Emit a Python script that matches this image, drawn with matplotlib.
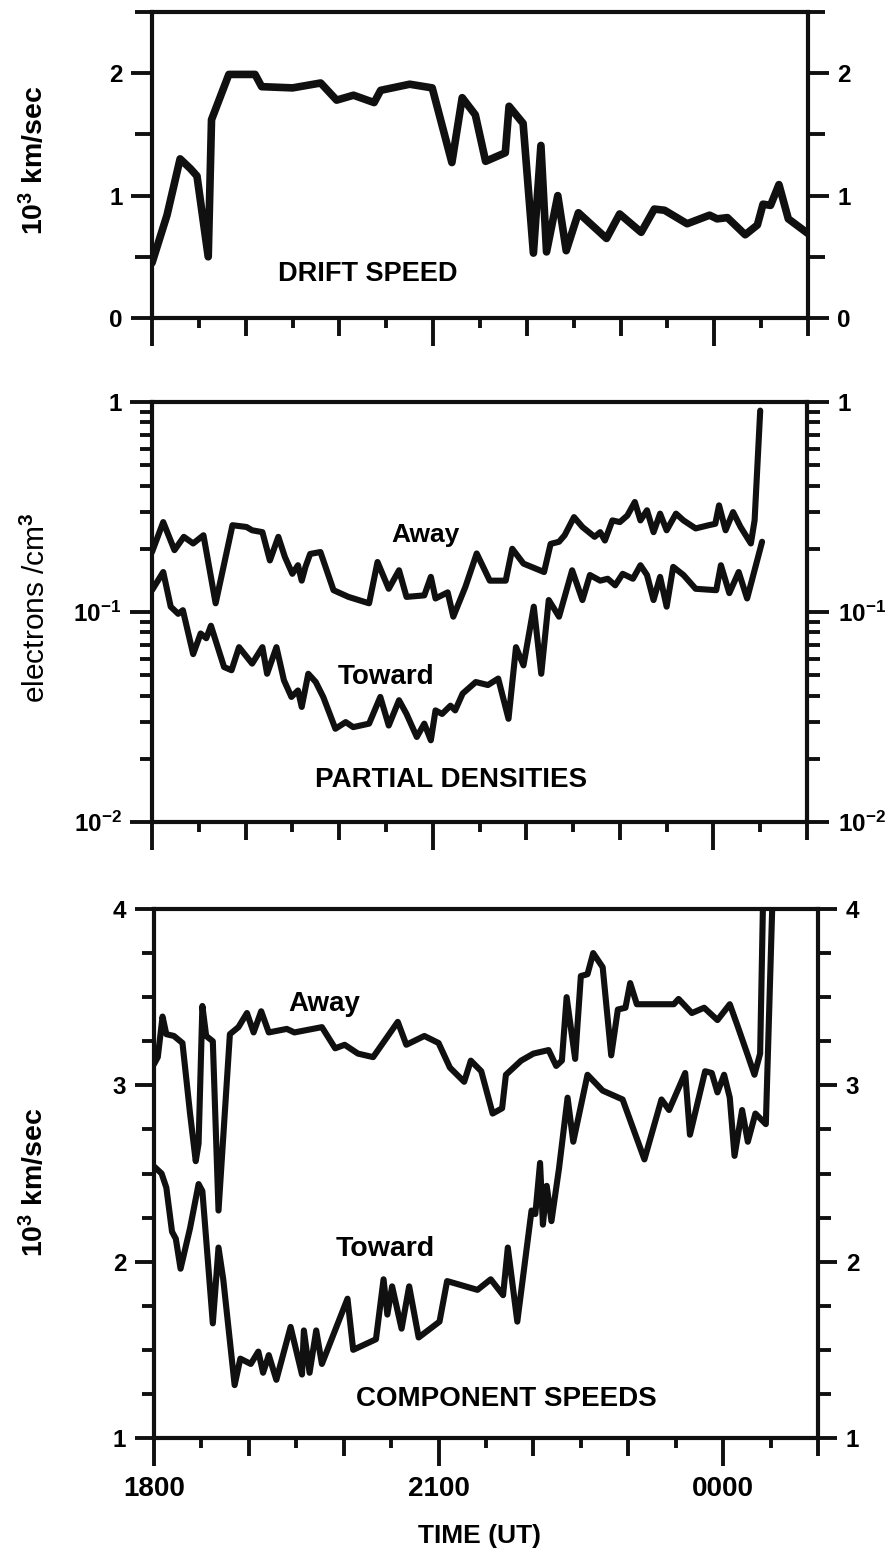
import math
import matplotlib
matplotlib.use("Agg")
import matplotlib.pyplot as plt
from matplotlib.ticker import FuncFormatter, NullFormatter, LogLocator, FixedLocator

plt.rcParams["font.family"] = ["Liberation Sans", "DejaVu Sans"]
plt.rcParams["font.weight"] = "bold"
plt.rcParams["mathtext.fontset"] = "custom"
plt.rcParams["mathtext.rm"] = "Liberation Sans:bold"
plt.rcParams["mathtext.bf"] = "Liberation Sans:bold"
plt.rcParams["mathtext.default"] = "rm"

INK = "#101010"

# time axis: hours after 1800 UT
hour_labels = ["1800", "2100", "0000"]
major_hours = [0, 3, 6]
minor_hours = [0.5, 1, 1.5, 2, 2.5, 3.5, 4, 4.5, 5, 5.5, 6.5, 7]

# drift speed (10^3 km/s)
t_drift = [0.00, 0.16, 0.30, 0.41, 0.48, 0.60, 0.635, 0.82, 1.10, 1.17, 1.50, 1.80,
           1.97, 2.15, 2.37, 2.44, 2.75, 2.99, 3.20, 3.31, 3.45, 3.56, 3.77, 3.81,
           3.96, 4.07, 4.15, 4.21, 4.33, 4.42, 4.55, 4.85, 4.99, 5.22, 5.36, 5.47,
           5.71, 5.95, 6.03, 6.14, 6.33, 6.46, 6.52, 6.60, 6.69, 6.79, 7.00]
v_drift = [0.45, 0.84, 1.30, 1.22, 1.16, 0.50, 1.62, 1.99, 1.99, 1.89, 1.88, 1.92,
           1.78, 1.82, 1.76, 1.86, 1.91, 1.88, 1.27, 1.80, 1.66, 1.28, 1.35, 1.73,
           1.59, 0.53, 1.41, 0.54, 1.00, 0.55, 0.86, 0.65, 0.85, 0.70, 0.89, 0.88,
           0.77, 0.84, 0.81, 0.82, 0.68, 0.76, 0.93, 0.92, 1.09, 0.81, 0.69]

# partial densities (electrons / cm^3)
t_dens_away = [0.00, 0.12, 0.24, 0.34, 0.44, 0.55, 0.68, 0.86, 1.01, 1.07, 1.18, 1.26,
               1.35, 1.42, 1.50, 1.56, 1.60, 1.64, 1.69, 1.80, 1.94, 2.10, 2.32, 2.41,
               2.53, 2.64, 2.72, 2.91, 2.98, 3.03, 3.16, 3.22, 3.35, 3.47, 3.61, 3.78,
               3.85, 3.97, 4.19, 4.26, 4.35, 4.41, 4.51, 4.60, 4.73, 4.79, 4.84, 4.92,
               5.00, 5.08, 5.16, 5.22, 5.29, 5.36, 5.43, 5.50, 5.60, 5.68, 5.81, 5.95,
               6.02, 6.06, 6.13, 6.21, 6.29, 6.40, 6.44, 6.50]
n_dens_away = [0.193, 0.268, 0.197, 0.228, 0.212, 0.232, 0.110, 0.259, 0.254, 0.245, 0.240, 0.176,
               0.228, 0.183, 0.152, 0.167, 0.141, 0.164, 0.189, 0.193, 0.127, 0.118, 0.110, 0.173,
               0.129, 0.158, 0.118, 0.120, 0.147, 0.116, 0.124, 0.095, 0.132, 0.190, 0.141, 0.141,
               0.200, 0.170, 0.155, 0.211, 0.216, 0.232, 0.283, 0.254, 0.228, 0.240, 0.219, 0.273,
               0.268, 0.288, 0.334, 0.273, 0.305, 0.240, 0.294, 0.245, 0.294, 0.273, 0.250, 0.259,
               0.263, 0.322, 0.245, 0.299, 0.254, 0.212, 0.273, 0.910]

t_dens_toward = [0.00, 0.12, 0.20, 0.28, 0.33, 0.44, 0.52, 0.58, 0.63, 0.77, 0.85, 0.93,
                 1.07, 1.18, 1.23, 1.33, 1.41, 1.49, 1.56, 1.60, 1.67, 1.75, 1.83, 1.96,
                 2.07, 2.15, 2.32, 2.44, 2.53, 2.64, 2.72, 2.83, 2.91, 2.98, 3.03, 3.10,
                 3.19, 3.24, 3.32, 3.46, 3.59, 3.70, 3.81, 3.89, 3.97, 4.08, 4.16, 4.24,
                 4.35, 4.49, 4.60, 4.68, 4.79, 4.87, 4.95, 5.03, 5.14, 5.22, 5.29, 5.36,
                 5.43, 5.50, 5.57, 5.68, 5.81, 6.03, 6.08, 6.17, 6.27, 6.36, 6.52]
n_dens_toward = [0.127, 0.155, 0.106, 0.098, 0.102, 0.063, 0.079, 0.075, 0.086, 0.0547, 0.0528, 0.068,
                 0.0568, 0.068, 0.0508, 0.068, 0.0473, 0.0394, 0.0423, 0.0353, 0.0508, 0.0464, 0.0394, 0.0278,
                 0.0299, 0.0283, 0.0294, 0.0394, 0.0288, 0.0380, 0.0327, 0.0254, 0.0294, 0.0245, 0.0340, 0.0327,
                 0.0358, 0.0340, 0.0409, 0.0464, 0.0449, 0.0482, 0.0310, 0.068, 0.0557, 0.106, 0.0508, 0.114,
                 0.095, 0.158, 0.114, 0.150, 0.141, 0.144, 0.134, 0.152, 0.144, 0.167, 0.150, 0.114,
                 0.147, 0.106, 0.164, 0.150, 0.129, 0.127, 0.167, 0.123, 0.155, 0.116, 0.216]

# component speeds (10^3 km/s)
t_comp_away = [0.00, 0.04, 0.09, 0.13, 0.21, 0.30, 0.38, 0.44, 0.47, 0.51, 0.55, 0.62,
               0.68, 0.80, 0.89, 0.98, 1.05, 1.13, 1.21, 1.40, 1.48, 1.77, 1.91, 2.01,
               2.15, 2.31, 2.57, 2.66, 2.85, 3.00, 3.12, 3.27, 3.34, 3.45, 3.57, 3.67,
               3.71, 3.87, 4.00, 4.16, 4.24, 4.30, 4.35, 4.44, 4.50, 4.57, 4.63, 4.73,
               4.82, 4.89, 4.97, 5.02, 5.09, 5.48, 5.53, 5.67, 5.80, 5.94, 6.07, 6.15,
               6.26, 6.33, 6.39, 6.44]
v_comp_away = [3.12, 3.16, 3.39, 3.29, 3.28, 3.24, 2.84, 2.57, 2.67, 3.45, 3.28, 3.25,
               2.29, 3.29, 3.33, 3.41, 3.30, 3.42, 3.30, 3.32, 3.30, 3.33, 3.21, 3.23,
               3.18, 3.16, 3.36, 3.23, 3.28, 3.24, 3.10, 3.02, 3.14, 3.08, 2.84, 2.87,
               3.06, 3.14, 3.18, 3.20, 3.11, 3.14, 3.50, 3.15, 3.62, 3.63, 3.75, 3.67,
               3.17, 3.43, 3.44, 3.58, 3.46, 3.46, 3.49, 3.41, 3.44, 3.37, 3.46, 3.34,
               3.17, 3.06, 3.18, 4.60]

t_comp_toward = [0.00, 0.08, 0.13, 0.19, 0.23, 0.28, 0.38, 0.47, 0.51, 0.62, 0.68, 0.73,
                 0.85, 0.91, 1.02, 1.10, 1.15, 1.21, 1.29, 1.44, 1.56, 1.58, 1.64, 1.71,
                 1.77, 2.04, 2.10, 2.34, 2.42, 2.46, 2.51, 2.61, 2.69, 2.79, 3.01, 3.09,
                 3.41, 3.55, 3.68, 3.73, 3.83, 3.98, 4.02, 4.07, 4.10, 4.14, 4.19, 4.27,
                 4.36, 4.42, 4.57, 4.73, 4.94, 5.17, 5.35, 5.43, 5.60, 5.65, 5.81, 5.88,
                 5.94, 6.01, 6.07, 6.12, 6.20, 6.26, 6.34, 6.45, 6.55]
v_comp_toward = [2.54, 2.50, 2.42, 2.17, 2.13, 1.96, 2.19, 2.44, 2.40, 1.65, 2.08, 1.90,
                 1.30, 1.45, 1.42, 1.49, 1.37, 1.47, 1.33, 1.63, 1.36, 1.61, 1.37, 1.61,
                 1.42, 1.79, 1.50, 1.56, 1.90, 1.70, 1.86, 1.62, 1.86, 1.57, 1.66, 1.89,
                 1.84, 1.90, 1.81, 2.08, 1.66, 2.29, 2.27, 2.56, 2.21, 2.43, 2.23, 2.53,
                 2.93, 2.68, 3.06, 2.97, 2.92, 2.58, 2.92, 2.86, 3.07, 2.72, 3.08, 3.07,
                 2.96, 3.06, 2.93, 2.60, 2.86, 2.68, 2.84, 2.78, 4.60]

W, H = 894, 1554
fig = plt.figure(figsize=(W / 100, H / 100), dpi=100)


def add_panel(left, top, right, bottom):
    return fig.add_axes([left / W, 1 - bottom / H, (right - left) / W, (bottom - top) / H])


def decade_label(v, pos):
    if v >= 1:
        return "1"
    return r"$10^{%d}$" % round(math.log10(v))


def style_panel(ax, show_hours, ymaj_len, ymin_len):
    for s in ax.spines.values():
        s.set_linewidth(3.0)
        s.set_color(INK)
    ax.set_xlim(0, 7)
    if show_hours:
        ax.set_xticks(major_hours, labels=hour_labels)
    else:
        ax.set_xticks(major_hours, labels=[])
    ax.set_xticks(minor_hours, minor=True)
    ax.tick_params(axis="x", which="major", direction="out", length=20, width=2.8,
                   color=INK, top=False, pad=7, labelsize=20)
    ax.tick_params(axis="x", which="minor", direction="out", length=7, width=2.8,
                   color=INK, top=False)
    ax.tick_params(axis="y", which="major", direction="out", length=ymaj_len, width=2.8,
                   color=INK, left=True, right=True, labelleft=True, labelright=True,
                   pad=6, labelsize=17.5)
    ax.tick_params(axis="y", which="minor", direction="out", length=ymin_len, width=2.8,
                   color=INK, left=True, right=True)
    # hourly ticks a little longer than the half-hour ones
    for loc, tick in zip(ax.xaxis.get_minorticklocs(), ax.xaxis.get_minor_ticks()):
        if float(loc).is_integer():
            tick.tick1line.set_markersize(13)


line_kw = dict(color=INK, solid_joinstyle="round", solid_capstyle="round")

# drift speed
ax1 = add_panel(152, 12, 808, 318)
ax1.plot(t_drift, v_drift, lw=5.5, **line_kw)
ax1.set_ylim(0, 2.5)
ax1.set_yticks([0, 1, 2])
ax1.set_yticks([0.5, 1.5, 2.5], minor=True)
style_panel(ax1, False, 15, 12)
ax1.text(2.30, 0.36, "DRIFT SPEED", ha="center", va="center", fontsize=19.5)

# partial densities
ax2 = add_panel(152, 402, 807, 822)
ax2.plot(t_dens_away, n_dens_away, lw=4.4, **line_kw)
ax2.plot(t_dens_toward, n_dens_toward, lw=4.4, **line_kw)
ax2.set_yscale("log")
ax2.set_ylim(0.01, 1)
ax2.yaxis.set_major_locator(FixedLocator([0.01, 0.1, 1]))
ax2.yaxis.set_minor_locator(LogLocator(base=10, subs=range(2, 10)))
ax2.yaxis.set_major_formatter(FuncFormatter(decade_label))
ax2.yaxis.set_minor_formatter(NullFormatter())
style_panel(ax2, False, 16, 9)
ax2.text(2.92, 0.232, "Away", ha="center", va="center", fontsize=19)
ax2.text(2.50, 0.049, "Toward", ha="center", va="center", fontsize=20)
ax2.text(3.20, 0.0158, "PARTIAL DENSITIES", ha="center", va="center", fontsize=20)

# component speeds
ax3 = add_panel(154, 909, 818, 1438)
ax3.plot(t_comp_away, v_comp_away, lw=4.4, **line_kw)
ax3.plot(t_comp_toward, v_comp_toward, lw=4.4, **line_kw)
ax3.set_ylim(1, 4)
ax3.set_yticks([1, 2, 3, 4])
ax3.set_yticks([1.25, 1.5, 1.75, 2.25, 2.5, 2.75, 3.25, 3.5, 3.75], minor=True)
style_panel(ax3, True, 14, 9)
ax3.text(1.80, 3.46, "Away", ha="center", va="center", fontsize=20)
ax3.text(2.435, 2.07, "Toward", ha="center", va="center", fontsize=20.5)
ax3.text(3.71, 1.22, "COMPONENT SPEEDS", ha="center", va="center", fontsize=20)

# axis titles
fig.text(34 / W, 1 - 160 / H, r"$10^3$ km/sec", rotation=90, ha="center", va="center", fontsize=20.5)
fig.text(36 / W, 1 - 608 / H, r"electrons /cm$^3$", rotation=90, ha="center", va="center",
         fontsize=21.5, fontweight="normal")
fig.text(34 / W, 1 - 1182 / H, r"$10^3$ km/sec", rotation=90, ha="center", va="center", fontsize=20.5)
fig.text(480 / W, 1 - 1536 / H, "TIME (UT)", ha="center", va="center", fontsize=19)

fig.savefig("out.png", dpi=100, facecolor="white")
